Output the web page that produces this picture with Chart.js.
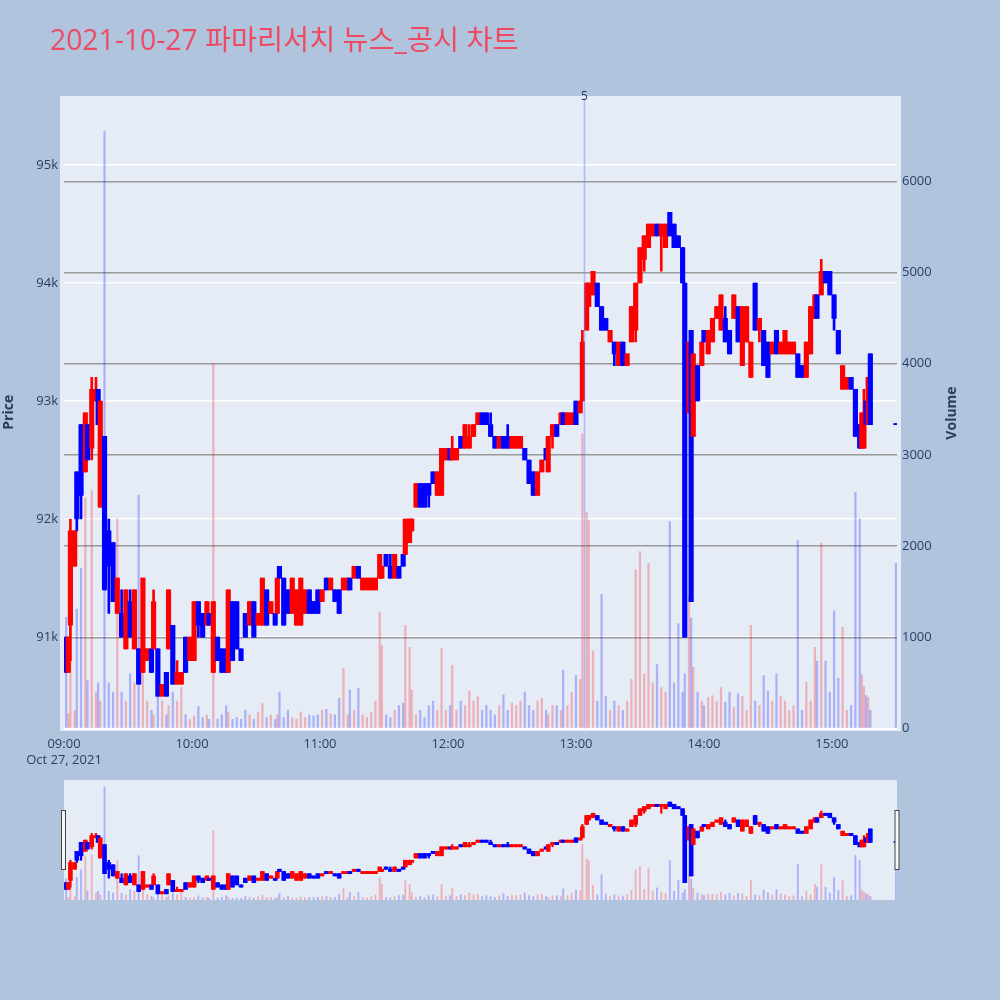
<!DOCTYPE html>
<html><head><meta charset="utf-8">
<script src="https://cdn.jsdelivr.net/npm/chart.js@4.4.1/dist/chart.umd.min.js"></script>
<style>
html,body{margin:0;padding:0;background:#b0c4de;width:1000px;height:1000px;overflow:hidden}
#main{position:absolute;left:0;top:0}
#slider{position:absolute;left:0;top:780px}
</style></head><body>
<canvas id="main" width="1000" height="780"></canvas>
<canvas id="slider" width="1000" height="120"></canvas>
<script>
const chartTitle = '2021-10-27 파마리서치 뉴스_공시 차트';
const times = ['09:01','09:02','09:03','09:05','09:06','09:08','09:10','09:11','09:13','09:15','09:16','09:17','09:19','09:21','09:23','09:25','09:27','09:29','09:31','09:33','09:35','09:37','09:39','09:41','09:42','09:44','09:46','09:48','09:49','09:51','09:53','09:55','09:57','09:59','10:01','10:03','10:05','10:07','10:08','10:10','10:12','10:14','10:16','10:17','10:19','10:21','10:23','10:25','10:27','10:29','10:31','10:33','10:35','10:37','10:39','10:40','10:41','10:43','10:45','10:47','10:49','10:51','10:53','10:55','10:57','10:59','11:01','11:03','11:05','11:07','11:09','11:11','11:13','11:14','11:16','11:18','11:20','11:22','11:24','11:26','11:28','11:29','11:31','11:33','11:35','11:37','11:39','11:40','11:42','11:43','11:45','11:47','11:49','11:51','11:53','11:55','11:57','11:59','12:01','12:02','12:04','12:06','12:08','12:10','12:12','12:14','12:16','12:18','12:20','12:22','12:24','12:26','12:28','12:30','12:32','12:34','12:36','12:38','12:40','12:42','12:44','12:46','12:47','12:49','12:51','12:53','12:54','12:56','12:58','13:00','13:02','13:03','13:05','13:06','13:08','13:10','13:12','13:14','13:16','13:18','13:20','13:22','13:24','13:26','13:28','13:30','13:32','13:34','13:36','13:38','13:40','13:42','13:44','13:46','13:48','13:50','13:51','13:53','13:54','13:55','13:57','13:59','14:00','14:02','14:04','14:06','14:08','14:10','14:12','14:14','14:16','14:18','14:20','14:22','14:24','14:26','14:28','14:30','14:32','14:34','14:36','14:38','14:40','14:42','14:44','14:46','14:48','14:50','14:52','14:53','14:55','14:57','14:59','15:01','15:03','15:05','15:07','15:09','15:11','15:13','15:14','15:15','15:16','15:17','15:18','15:30'];
const opens = [91000,90700,91100,91600,92400,92800,92400,92800,92600,93000,93100,92100,92700,91900,91800,91200,91200,90900,91300,90900,90900,90700,90800,90900,90900,90900,90500,90700,90900,91100,90600,90600,91000,90800,90800,91300,91200,91100,91200,90700,91000,90900,90900,90700,91300,91300,90900,91200,91100,91300,91100,91100,91400,91200,91200,91200,91600,91500,91400,91200,91100,91100,91200,91400,91300,91400,91300,91500,91400,91400,91400,91400,91400,91500,91500,91600,91400,91400,91400,91400,91500,91500,91700,91600,91500,91600,91700,91700,91800,91900,92100,92300,92300,92300,92400,92200,92200,92500,92600,92500,92500,92700,92600,92600,92700,92800,92900,92900,92800,92700,92600,92700,92700,92600,92600,92600,92600,92500,92400,92200,92400,92600,92400,92700,92800,92800,92900,92800,92800,93000,92900,93000,93600,93800,93900,94000,93800,93700,93500,93500,93300,93500,93300,93500,93600,94000,94200,94300,94400,94500,94400,94300,94600,94500,94400,94300,94000,92900,93600,92700,93300,93300,93600,93400,93500,93700,93600,93700,93600,93700,93800,93300,93500,93200,94000,93600,93600,93500,93400,93600,93400,93400,93400,93400,93400,93300,93200,93400,93700,93900,93900,94100,94100,93900,93600,93100,93100,93200,93100,92800,92600,92600,93000,92800,93400,92800];
const highs = [91000,91000,92000,91900,92400,92800,92900,92800,93200,93200,93100,93000,92700,92000,91800,91500,91400,91400,91400,91400,90900,91500,90900,90900,91400,90900,90600,90700,91400,91100,90800,90700,91000,91000,91300,91300,91200,91300,91200,91300,91000,90900,90900,91400,91300,91300,90900,91200,91300,91300,91200,91500,91400,91300,91200,91500,91600,91500,91400,91500,91400,91500,91400,91400,91300,91400,91400,91500,91500,91400,91400,91500,91500,91500,91600,91600,91500,91500,91500,91500,91700,91600,91700,91700,91700,91600,91700,92000,92000,92000,92300,92300,92300,92300,92400,92400,92600,92600,92600,92700,92600,92700,92800,92800,92800,92900,92900,92900,92900,92700,92700,92700,92800,92700,92700,92700,92600,92500,92400,92400,92500,92600,92700,92800,92800,92900,92900,92900,92900,93000,93000,93600,94000,94000,94100,94000,93800,93700,93600,93500,93500,93500,93400,93800,94000,94300,94400,94500,94500,94500,94500,94500,94600,94500,94400,94300,94000,93500,93600,93400,93300,93500,93600,93600,93700,93800,93900,93800,93600,93900,93800,93800,93800,93500,94000,93700,93600,93500,93500,93600,93500,93600,93500,93500,93400,93300,93500,93800,93900,93900,94200,94100,94100,93900,93600,93300,93200,93200,93100,92800,92900,93100,93000,93200,93400,92800];
const lows = [90700,90700,90800,91600,91900,92000,92400,92500,92500,93000,92800,92100,91400,91200,91300,91200,91000,90900,91000,90900,90600,90700,90800,90700,90900,90500,90500,90500,90900,90600,90600,90600,90700,90800,90800,91000,91000,91100,91100,90700,90800,90700,90700,90700,90800,90900,90800,91000,91100,91000,91100,91100,91100,91200,91100,91200,91500,91100,91200,91200,91100,91100,91200,91200,91200,91200,91300,91400,91400,91300,91200,91400,91400,91400,91500,91500,91400,91400,91400,91400,91500,91500,91600,91500,91500,91500,91600,91700,91800,91900,92100,92100,92100,92100,92300,92200,92200,92500,92500,92500,92500,92600,92600,92600,92700,92800,92800,92800,92700,92600,92600,92600,92600,92600,92600,92600,92500,92300,92200,92200,92400,92500,92400,92600,92700,92800,92800,92800,92800,92800,92900,93000,93600,93800,93900,93800,93600,93600,93500,93300,93300,93300,93300,93500,93500,94000,94100,94300,94400,94400,94100,94300,94400,94300,94300,94000,91000,92900,91300,92700,93000,93300,93500,93400,93500,93700,93600,93500,93400,93700,93500,93300,93500,93200,93600,93500,93300,93200,93400,93400,93400,93400,93400,93400,93200,93200,93200,93400,93700,93700,93900,94000,93900,93600,93400,93100,93100,93100,92700,92600,92600,92600,92800,92800,92800,92800];
const closes = [90700,91000,91900,91900,92000,92200,92900,92500,93100,93100,92800,93000,91400,91600,91300,91500,91000,91400,91000,91400,90600,91500,90900,90700,91300,90500,90600,90500,91400,90600,90700,90700,90700,91000,91300,91100,91000,91300,91100,91300,90800,90700,90700,91400,90800,90900,90800,91000,91300,91000,91200,91500,91100,91300,91100,91500,91500,91100,91200,91500,91400,91500,91400,91200,91200,91200,91400,91400,91500,91300,91200,91500,91500,91400,91600,91500,91500,91500,91500,91500,91700,91600,91600,91500,91700,91500,91600,92000,92000,92000,92300,92100,92100,92200,92300,92400,92600,92600,92500,92600,92600,92600,92800,92700,92800,92900,92800,92800,92700,92600,92700,92600,92600,92700,92700,92700,92500,92300,92200,92400,92500,92500,92700,92800,92700,92900,92800,92900,92900,92800,93000,93500,94000,94000,94100,93800,93600,93600,93600,93400,93500,93300,93400,93800,94000,94300,94400,94500,94500,94400,94500,94500,94400,94300,94300,94000,91000,93500,91300,93400,93000,93500,93500,93600,93700,93800,93900,93500,93400,93900,93500,93800,93800,93500,93600,93700,93300,93200,93500,93400,93500,93600,93500,93500,93200,93200,93500,93800,93900,93700,94100,94000,93900,93700,93400,93300,93200,93100,92700,92600,92900,92800,92800,93200,92800,92800];
const volumes = [1220,160,1370,200,1310,1760,2530,525,2610,400,500,300,6550,500,400,2300,400,300,600,500,2560,1600,300,200,150,350,300,150,250,400,300,450,150,100,140,240,120,150,100,4000,100,150,250,180,100,120,100,200,150,100,180,280,120,150,100,150,400,120,200,120,100,180,120,150,140,150,200,210,160,150,330,660,150,420,200,440,150,120,180,300,1280,910,150,120,200,250,280,1130,890,420,150,200,120,250,300,200,880,200,250,690,200,300,250,410,300,350,200,250,200,150,250,370,200,280,250,300,400,250,200,300,330,200,150,250,250,200,640,250,400,580,540,3230,2370,2280,850,300,1470,350,200,300,250,200,300,540,1740,1940,600,1810,500,700,450,400,2270,500,1150,400,600,1450,1210,670,400,300,250,340,360,300,450,290,400,230,380,350,200,1130,300,250,580,410,300,600,350,300,200,250,2060,200,510,300,890,740,2030,740,400,1290,550,1110,200,250,2590,2300,590,460,360,340,200,1810];
const xTickTimes = ['09:00','10:00','11:00','12:00','13:00','14:00','15:00'];
const priceTicks = [91000,92000,93000,94000,95000];
const volumeTicks = [0,1000,2000,3000,4000,5000,6000];
const newsTimes = ['13:04'];
const newsLabels = ['5'];

const FONT = '"Open Sans", "Noto Sans CJK KR", sans-serif';
const toMin = t => { const p = t.split(':').map(Number); return (p[0]-9)*60 + p[1]; };
const xs = times.map(toMin);
const up = closes.map((c,i) => c > opens[i]);
const RED = '#ff0000', BLUE = '#0000ff', RED_V = 'rgba(255,0,0,0.25)', BLUE_V = 'rgba(0,0,255,0.25)';
const solidCols = up.map(u => u ? RED : BLUE);
const volCols = up.map(u => u ? RED_V : BLUE_V);
const X_MIN = 0, X_MAX = 390.5, P_MIN = 90225, P_MAX = 95585, V_MIN = 0, V_MAX = 6935;

function makeDatasets(bw, ww, vw) {
  return [
    {label:'body', data: xs.map((x,i)=>({x:x, y:[opens[i], closes[i]]})), yAxisID:'y', barThickness:bw, minBarLength:1, backgroundColor:solidCols, borderWidth:0, grouped:false, order:1},
    {label:'wick', data: xs.map((x,i)=>({x:x, y:[lows[i], highs[i]]})), yAxisID:'y', barThickness:ww, minBarLength:1, backgroundColor:solidCols, borderWidth:0, grouped:false, order:2},
    {label:'volume', data: xs.map((x,i)=>({x:x, y:volumes[i]})), yAxisID:'yv', barThickness:vw, backgroundColor:volCols, borderWidth:0, grouped:false, order:3}
  ];
}

const tickFont = {family: FONT, size: 13, lineHeight: 1.2};
const TXT = '#2a3f5f';

const bgPlugin = {
  id: 'bgMain',
  beforeDraw(chart) {
    const c = chart.ctx;
    c.save(); c.fillStyle = '#e5ecf6';
    c.fillRect(60, chart.chartArea.top, 841, chart.chartArea.bottom - chart.chartArea.top + 2.5);
    c.restore();
  }
};
const newsPlugin = {
  id: 'news',
  afterDatasetsDraw(chart) {
    const c = chart.ctx, xsc = chart.scales.x, ca = chart.chartArea;
    c.save();
    newsTimes.forEach((t, i) => {
      const px = xsc.getPixelForValue(toMin(t));
      c.strokeStyle = 'rgba(110,125,255,0.45)'; c.lineWidth = 1.6;
      c.beginPath(); c.moveTo(px, ca.top + 2); c.lineTo(px, ca.bottom); c.stroke();
      c.fillStyle = TXT; c.font = '12px ' + FONT; c.textAlign = 'center'; c.textBaseline = 'middle';
      c.fillText(newsLabels[i], px, ca.top + 1);
    });
    c.restore();
  }
};
const textPlugin = {
  id: 'texts',
  afterDraw(chart) {
    const c = chart.ctx;
    c.save();
    c.fillStyle = '#ee4a64'; c.font = '28.3px ' + FONT; c.textAlign = 'left'; c.textBaseline = 'alphabetic';
    c.fillText(chartTitle, 50, 50);
    c.translate(952, 413); c.rotate(-Math.PI/2);
    c.fillStyle = TXT; c.font = 'bold 14px ' + FONT; c.textAlign = 'center'; c.textBaseline = 'middle';
    c.fillText('Volume', 0, 0);
    c.restore();
  }
};

new Chart(document.getElementById('main'), {
  type: 'bar',
  data: { datasets: makeDatasets(4.5, 2, 1.6) },
  options: {
    responsive: false, animation: false,
    layout: { padding: { left: 0, right: 0, top: 96, bottom: 0 } },
    plugins: { legend: { display: false }, tooltip: { enabled: false }, title: { display: false } },
    scales: {
      x: {
        type: 'linear', min: X_MIN, max: X_MAX, offset: false,
        grid: { display: false, offset: false }, border: { display: false },
        ticks: { color: TXT, font: tickFont, padding: 0, maxRotation: 0, autoSkip: false,
          callback: (v) => { const h = 9 + Math.floor(v/60), m = v % 60;
            const s = String(h).padStart(2,'0') + ':' + String(m).padStart(2,'0');
            return v === 0 ? [s, 'Oct 27, 2021'] : s; } },
        afterBuildTicks: s => { s.ticks = xTickTimes.map(t => ({ value: toMin(t) })); },
        afterFit: s => { s.height = 51.5; }
      },
      y: {
        type: 'linear', position: 'left', min: P_MIN, max: P_MAX,
        grid: { color: '#ffffff', lineWidth: 1.6, drawTicks: false }, border: { display: false },
        ticks: { color: TXT, font: tickFont, padding: 6, callback: v => (v/1000) + 'k' },
        afterBuildTicks: s => { s.ticks = priceTicks.map(v => ({ value: v })); },
        afterFit: s => { s.width = 64; },
        title: { display: true, text: 'Price', color: TXT, font: { family: FONT, size: 14, weight: 'bold' }, padding: { top: 1, bottom: 0 } }
      },
      yv: {
        type: 'linear', position: 'right', min: V_MIN, max: V_MAX,
        grid: { color: ctx => ctx.tick && ctx.tick.value === 0 ? '#ffffff' : '#9a9a9a', lineWidth: ctx => ctx.tick && ctx.tick.value === 0 ? 2 : 1.5, drawTicks: false },
        border: { display: false },
        ticks: { color: TXT, font: tickFont, padding: 5, callback: v => String(v) },
        afterBuildTicks: s => { s.ticks = volumeTicks.map(v => ({ value: v })); },
        afterFit: s => { s.width = 103; }
      }
    }
  },
  plugins: [bgPlugin, newsPlugin, textPlugin]
});

const sliderBg = {
  id: 'sliderBg',
  beforeDraw(chart) {
    const c = chart.ctx, ca = chart.chartArea;
    c.save(); c.fillStyle = '#e5ecf6'; c.fillRect(ca.left, ca.top, ca.right - ca.left, ca.bottom - ca.top); c.restore();
  },
  afterDraw(chart) {
    const c = chart.ctx, ca = chart.chartArea;
    c.save(); c.fillStyle = '#f7f7f7'; c.strokeStyle = '#444'; c.lineWidth = 1;
    [ca.left - 2.5, ca.right - 2].forEach(hx => { c.fillRect(hx, 30.5, 4, 59); c.strokeRect(hx, 30.5, 4, 59); });
    c.restore();
  }
};

new Chart(document.getElementById('slider'), {
  type: 'bar',
  data: { datasets: makeDatasets(4, 1.6, 1.2) },
  options: {
    responsive: false, animation: false,
    layout: { padding: { left: 64, right: 103, top: 0, bottom: 0 } },
    plugins: { legend: { display: false }, tooltip: { enabled: false } },
    scales: {
      x: { type: 'linear', min: X_MIN, max: X_MAX, offset: false, display: false, grid: { offset: false } },
      y: { type: 'linear', min: P_MIN, max: P_MAX, display: false },
      yv: { type: 'linear', min: V_MIN, max: V_MAX, display: false }
    }
  },
  plugins: [sliderBg]
});
</script>
</body></html>
